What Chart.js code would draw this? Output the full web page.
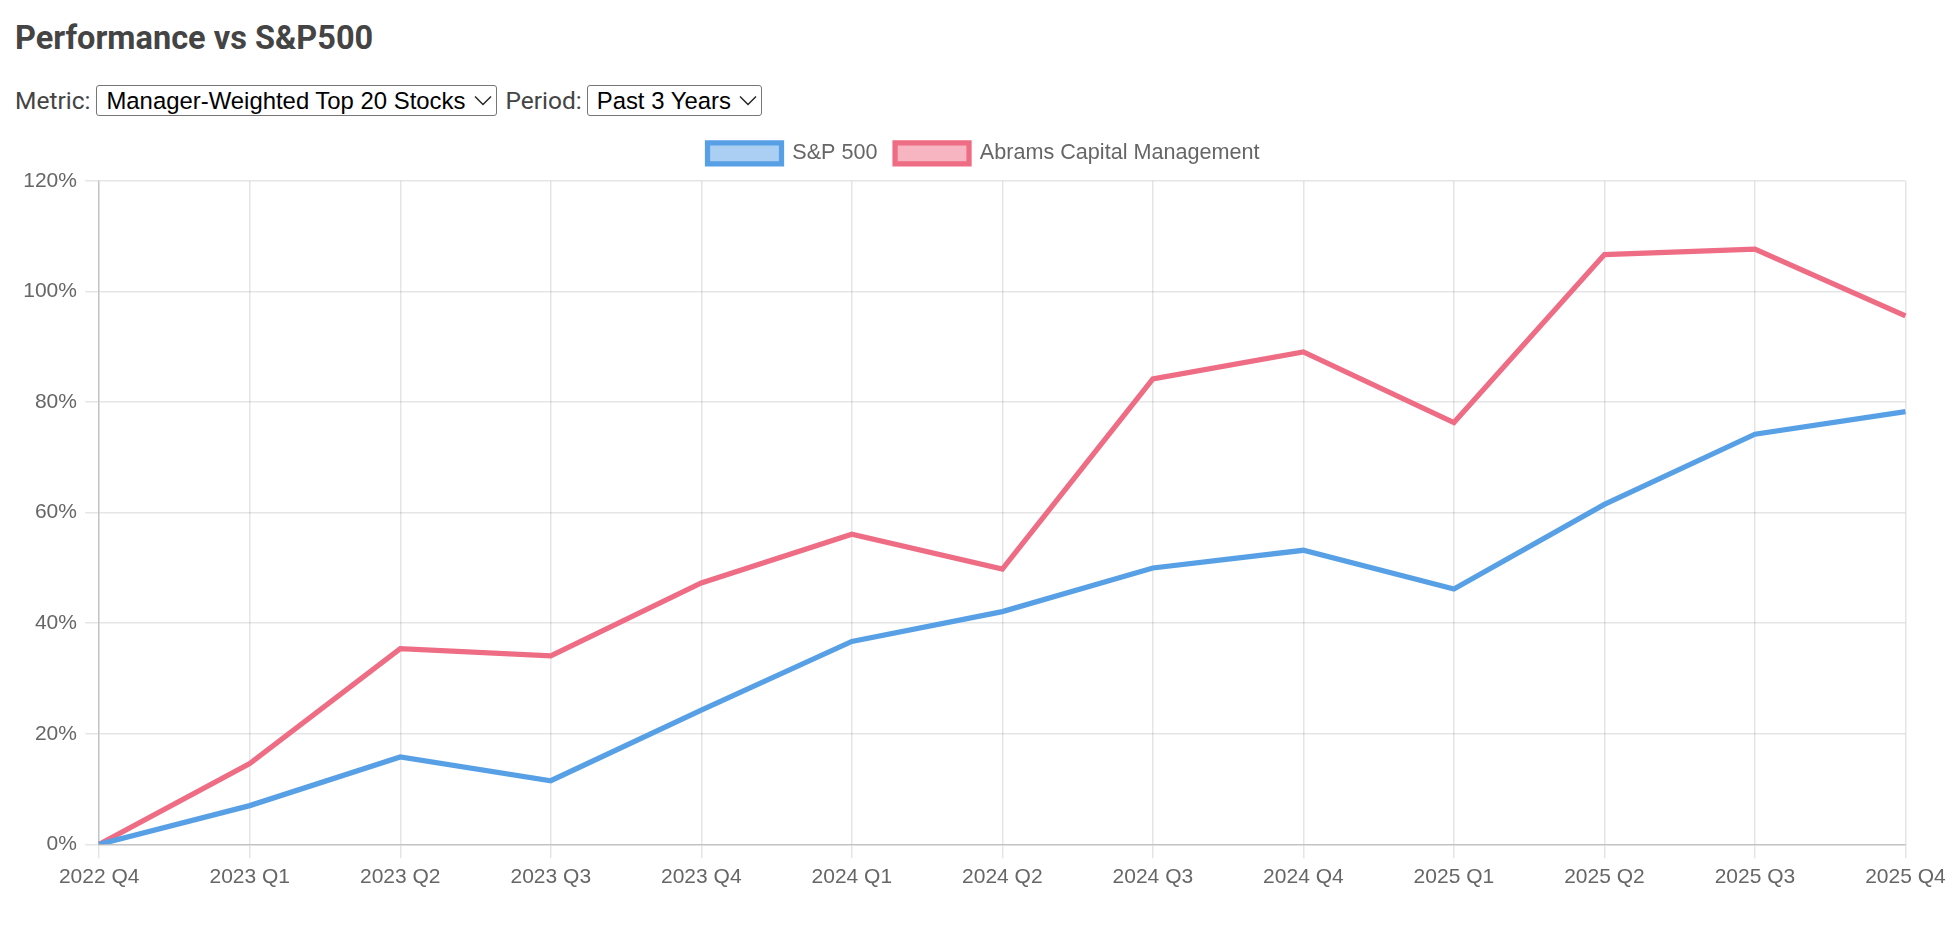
<!DOCTYPE html>
<html>
<head>
<meta charset="utf-8">
<title>Performance vs S&amp;P500</title>
<script src="https://cdn.jsdelivr.net/npm/chart.js@4.4.0/dist/chart.umd.min.js"></script>
<style>
  html, body { margin: 0; padding: 0; background: #fff; }
  body { width: 1960px; height: 932px; position: relative; overflow: hidden; font-family: Roboto, sans-serif; color: #444; }
  .title { position: absolute; left: 15px; top: 18px; font-size: 32.5px; line-height: 40px; font-weight: 700; color: #444; margin: 0; }
  .controls { position: absolute; left: 15px; top: 85px; height: 31px; display: flex; align-items: center; font-size: 24.5px; color: #444; }
  .controls label { margin-right: 5px; }
  .controls select {
    -webkit-appearance: none; appearance: none;
    font-family: "Liberation Sans", Arial, sans-serif; font-size: 23.9px; color: #000;
    height: 31px; box-sizing: border-box; border: 1px solid #767676; border-radius: 3px;
    padding: 0 26px 0 9px; margin-right: 8px; background: #fff;
    background-image: url("data:image/svg+xml;utf8,<svg xmlns='http://www.w3.org/2000/svg' width='18' height='11'><path d='M1 1.5 L9 9.5 L17 1.5' fill='none' stroke='%23222' stroke-width='1.4'/></svg>");
    background-repeat: no-repeat; background-position: right 4px center;
  }
  #metric { width: 401px; margin-left: 1px; }
  #period { width: 175px; }
  .chart-wrap { position: absolute; left: 15px; top: 125px; width: 1937px; height: 771px; }
</style>
</head>
<body>
<h3 class="title">Performance vs S&amp;P500</h3>
<div class="controls">
  <label for="metric">Metric:</label>
  <select id="metric"><option>Manager-Weighted Top 20 Stocks</option></select>
  <label for="period">Period:</label>
  <select id="period"><option>Past 3 Years</option></select>
</div>
<div class="chart-wrap"><canvas id="perfChart"></canvas></div>

<script>
// ---- Data ----
const quarters = ['2022 Q4','2023 Q1','2023 Q2','2023 Q3','2023 Q4','2024 Q1','2024 Q2',
                  '2024 Q3','2024 Q4','2025 Q1','2025 Q2','2025 Q3','2025 Q4'];
const sp500  = [0, 7.0, 15.8, 11.5, 24.3, 36.7, 42.1, 50.0, 53.2, 46.2, 61.5, 74.2, 78.3];
const abrams = [0, 14.6, 35.4, 34.1, 47.3, 56.1, 49.8, 84.2, 89.1, 76.3, 106.7, 107.7, 95.6];
const yTicks = [0, 20, 40, 60, 80, 100, 120];

// ---- Chart ----
const S = 1.75; // page was captured zoomed in
Chart.defaults.font.family = "'Liberation Sans', Arial, sans-serif";
Chart.defaults.font.size = 12 * S;
Chart.defaults.color = '#666';

const gridStyle = { color: 'rgba(0,0,0,0.1)', lineWidth: 1.5, tickLength: 8 * S };

// a bit more room under the legend
const legendGap = {
  id: 'legendGap',
  beforeInit(chart) {
    const fit = chart.legend.fit;
    chart.legend.fit = function () {
      fit.bind(chart.legend)();
      this.height += 7;
    };
  }
};

new Chart(document.getElementById('perfChart'), {
  type: 'line',
  data: {
    labels: quarters,
    datasets: [
      {
        label: 'S&P 500', data: sp500,
        borderColor: 'rgb(88,160,230)', backgroundColor: 'rgba(88,160,230,0.5)',
        borderWidth: 3 * S, pointRadius: 0, tension: 0
      },
      {
        label: 'Abrams Capital Management', data: abrams,
        borderColor: 'rgb(238,108,132)', backgroundColor: 'rgba(238,108,132,0.5)',
        borderWidth: 3 * S, pointRadius: 0, tension: 0
      }
    ]
  },
  options: {
    responsive: true, maintainAspectRatio: false, animation: false,
    plugins: {
      legend: {
        labels: { boxWidth: 74, boxHeight: 21, padding: 10 * S, color: '#666', font: { size: 21.6 } }
      },
      tooltip: { enabled: false }
    },
    scales: {
      x: {
        grid: gridStyle,
        border: { color: 'rgba(0,0,0,0.15)', width: 1.5 },
        ticks: { padding: 3 * S + 1, maxRotation: 0, autoSkip: false }
      },
      y: {
        min: yTicks[0], max: yTicks[yTicks.length - 1],
        grid: gridStyle,
        border: { color: 'rgba(0,0,0,0.15)', width: 1.5 },
        afterBuildTicks: axis => { axis.ticks = yTicks.map(v => ({ value: v })); },
        ticks: { padding: 3 * S + 3, callback: v => v + '%' }
      }
    }
  },
  plugins: [legendGap]
});
</script>
</body>
</html>
